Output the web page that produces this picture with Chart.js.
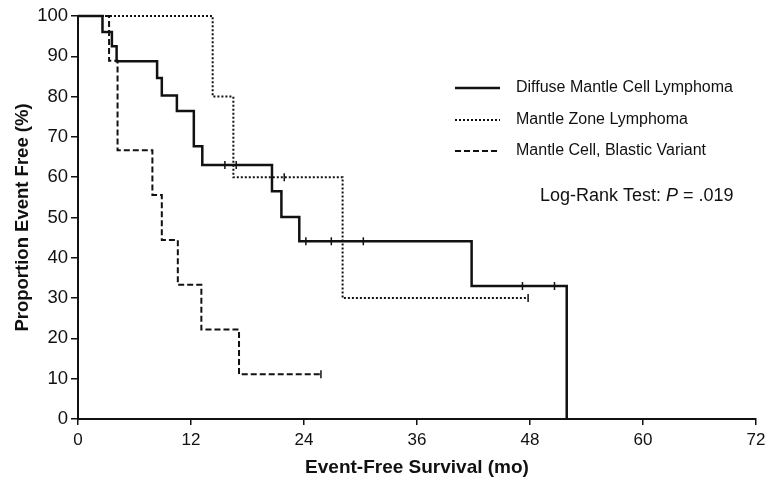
<!DOCTYPE html>
<html>
<head>
<meta charset="utf-8">
<script src="https://cdn.jsdelivr.net/npm/chart.js@4"></script>
<style>
  html, body { margin: 0; padding: 0; background: #fff; }
  #wrap { width: 767px; height: 479px; }
</style>
</head>
<body>
<div id="wrap"><canvas id="canvas" width="767" height="479"></canvas></div>
<script>
// Kaplan-Meier curves (time in months, survival in %)
const diffuseTime = [0, 2.6, 3.6, 4.1, 8.4, 8.9, 10.5, 12.3, 13.2, 20.6, 21.6, 23.5, 41.8, 51.9];
const diffuseSurv = [100, 96, 92.5, 88.8, 84.6, 80.3, 76.4, 67.7, 63, 56.5, 50.1, 44.1, 33, 0];
const diffuseCensorTime = [15.6, 16.8, 24.2, 26.9, 30.3, 47.2, 50.6];
const diffuseCensorSurv = [63, 63, 44.1, 44.1, 44.1, 33, 33];

const zoneTime = [0, 14.3, 16.5, 28.1, 47.8];
const zoneSurv = [100, 80, 60, 30, 30];
const zoneCensorTime = [21.9, 47.8];
const zoneCensorSurv = [60, 30];

const blasticTime = [0, 3.3, 4.2, 7.9, 8.9, 10.6, 13.1, 17.1, 25.8];
const blasticSurv = [100, 88.9, 66.7, 55.6, 44.4, 33.3, 22.2, 11.1, 11.1];
const blasticCensorTime = [25.8];
const blasticCensorSurv = [11.1];

const seriesNames = ['Diffuse Mantle Cell Lymphoma', 'Mantle Zone Lymphoma', 'Mantle Cell, Blastic Variant'];
const xTicks = [0, 12, 24, 36, 48, 60, 72];
const yTicks = [0, 10, 20, 30, 40, 50, 60, 70, 80, 90, 100];
const xTitle = 'Event-Free Survival (mo)';
const yTitle = 'Proportion Event Free (%)';

const ink = '#111';
const sans = '"Liberation Sans", Arial, sans-serif';
const styles = [
  { width: 2.5, dash: [] },
  { width: 2, dash: [2, 2] },
  { width: 2, dash: [6, 3] }
];

function pts(xs, ys) {
  return xs.map((x, i) => ({ x: x, y: ys[i] }));
}

function curve(xs, ys, s) {
  return {
    data: pts(xs, ys),
    stepped: 'before',
    borderColor: ink,
    borderWidth: s.width,
    borderDash: s.dash,
    pointRadius: 0,
    fill: false,
    clip: false
  };
}

function censor(xs, ys) {
  return {
    data: pts(xs, ys),
    showLine: false,
    pointStyle: 'line',
    rotation: 90,
    pointRadius: 4,
    borderColor: ink,
    borderWidth: 1.5,
    clip: false
  };
}

// legend and log-rank note inside the plot
const notes = {
  id: 'notes',
  afterDraw(chart) {
    const ctx = chart.ctx;
    ctx.save();
    ctx.fillStyle = ink;
    ctx.textBaseline = 'middle';
    const rows = [88, 120, 151];
    seriesNames.forEach((name, i) => {
      ctx.strokeStyle = ink;
      ctx.lineWidth = styles[i].width;
      ctx.setLineDash(styles[i].dash);
      ctx.beginPath();
      ctx.moveTo(455, rows[i]);
      ctx.lineTo(500, rows[i]);
      ctx.stroke();
      ctx.setLineDash([]);
      ctx.font = '16px ' + sans;
      ctx.textAlign = 'left';
      ctx.fillText(name, 516, rows[i]);
    });

    // "Log-Rank Test: P = .019" with italic P
    const parts = [['Log-Rank Test: ', ''], ['P', 'italic '], [' = .019', '']];
    let x = 540;
    parts.forEach(p => {
      ctx.font = p[1] + '18px ' + sans;
      ctx.fillText(p[0], x, 196);
      x += ctx.measureText(p[0]).width;
    });
    ctx.restore();
  }
};

new Chart(document.getElementById('canvas'), {
  type: 'line',
  data: {
    datasets: [
      curve(diffuseTime, diffuseSurv, styles[0]),
      curve(zoneTime, zoneSurv, styles[1]),
      curve(blasticTime, blasticSurv, styles[2]),
      censor(diffuseCensorTime, diffuseCensorSurv),
      censor(zoneCensorTime, zoneCensorSurv),
      censor(blasticCensorTime, blasticCensorSurv)
    ]
  },
  options: {
    responsive: false,
    animation: false,
    layout: { padding: { top: 16, right: 0, left: 0, bottom: 0 } },
    plugins: { legend: { display: false }, tooltip: { enabled: false } },
    scales: {
      x: {
        type: 'linear',
        min: 0,
        max: 72,
        afterBuildTicks: s => { s.ticks = xTicks.map(v => ({ value: v })); },
        afterFit: s => { s.height = 60; s.paddingRight = 11; },
        ticks: {
          color: ink,
          padding: 5,
          font: { family: sans, size: 17 }
        },
        grid: { drawOnChartArea: false, tickLength: 6, color: ink, lineWidth: 1.5 },
        border: { color: ink, width: 2 },
        title: {
          display: true,
          text: xTitle,
          color: ink,
          padding: { top: 0, bottom: 0 },
          font: { family: sans, size: 19, weight: 'bold' }
        }
      },
      y: {
        min: 0,
        max: 100,
        afterBuildTicks: s => { s.ticks = yTicks.map(v => ({ value: v })); },
        afterFit: s => { s.width = 78; },
        ticks: {
          color: ink,
          padding: 3,
          font: { family: sans, size: 18.5 }
        },
        grid: { drawOnChartArea: false, tickLength: 7, color: ink, lineWidth: 1.5 },
        border: { color: ink, width: 2 },
        title: {
          display: true,
          text: yTitle,
          color: ink,
          padding: { top: 12, bottom: 0 },
          font: { family: sans, size: 18.5, weight: 'bold' }
        }
      }
    }
  },
  plugins: [notes]
});
</script>
</body>
</html>
